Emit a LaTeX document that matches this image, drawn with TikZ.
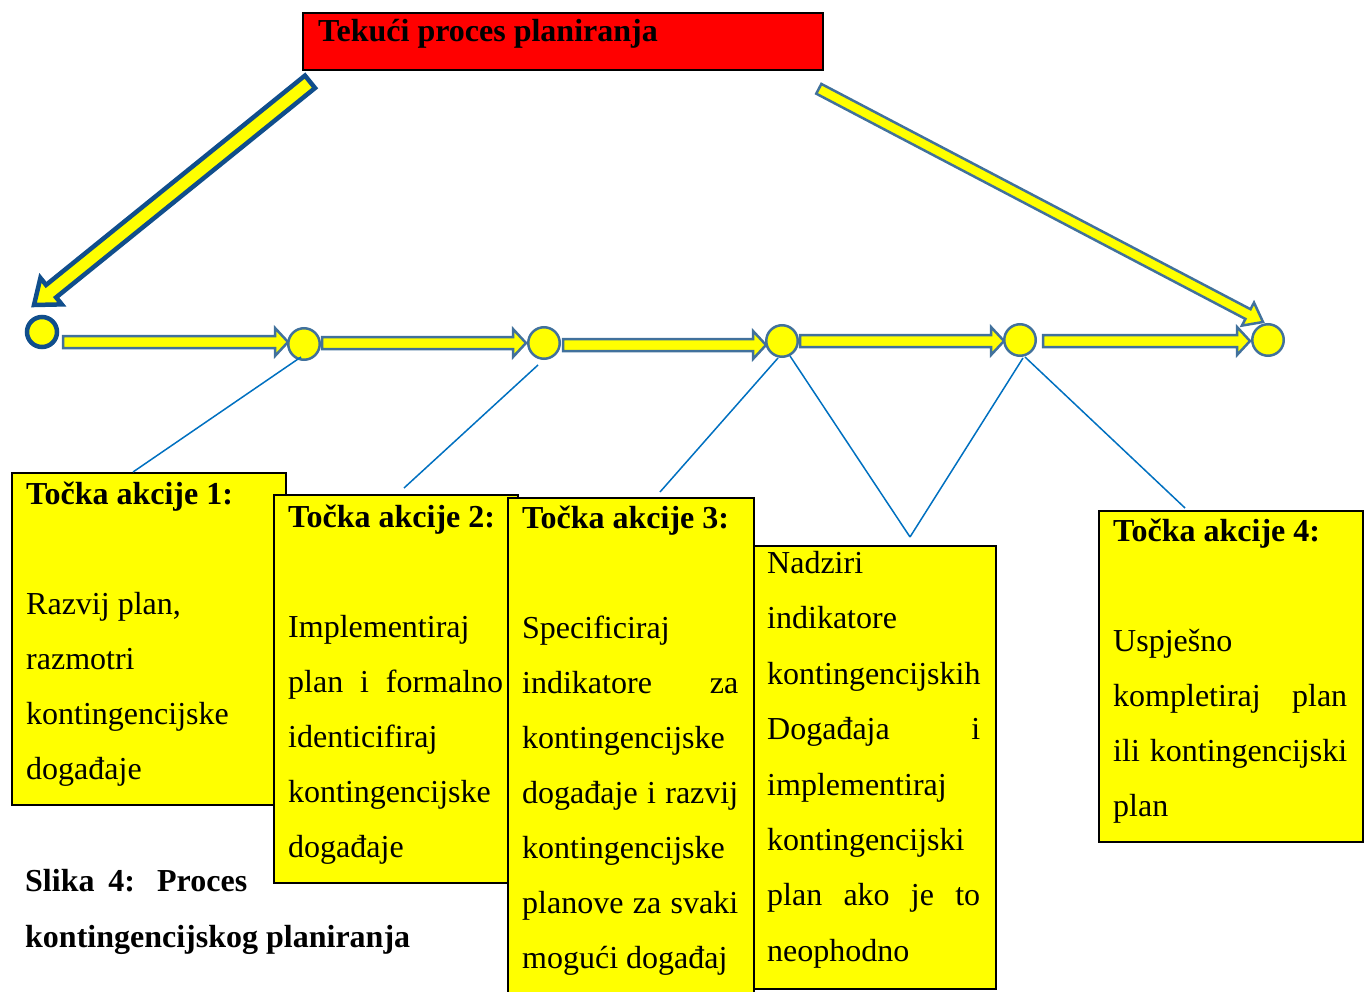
\documentclass[tikz,border=0pt]{standalone}
\usepackage{fontspec}
\setmainfont{Liberation Serif}
\usetikzlibrary{calc}
\definecolor{ayellow}{RGB}{255,255,0}
\definecolor{ared}{RGB}{255,0,0}
\definecolor{cborder}{RGB}{65,113,156}
\definecolor{dborder}{RGB}{16,78,140}
\definecolor{lblue}{RGB}{0,112,192}
\newcommand\blockarrow[6]{%
  \coordinate (bahead) at ($(#3)!#6!(#2)$);
  \path[#1] ($(#2)!#4!90:(#3)$) -- ($(bahead)!#4!-90:(#2)$) -- ($(bahead)!#5!-90:(#2)$) -- (#3) -- ($(bahead)!#5!90:(#2)$) -- ($(bahead)!#4!90:(#2)$) -- ($(#2)!#4!-90:(#3)$) -- cycle;}
\begin{document}
\begin{tikzpicture}[x=1pt,y=-1pt,
  boxshape/.style={draw=black, line width=1.8pt, fill=ayellow, anchor=north west, inner sep=0pt},
  redbox/.style={draw=black, line width=1.8pt, fill=ared, anchor=north west, inner sep=0pt},
  txt/.style={anchor=north west, inner sep=0pt, align=left, font=\fontsize{32}{55}\selectfont},
  circ/.style={circle, draw=cborder, line width=2.5pt, fill=ayellow, minimum size=31.5pt, inner sep=0pt},
  startcirc/.style={circle, draw=dborder, line width=4.5pt, fill=ayellow, minimum size=30pt, inner sep=0pt},
  smallarrow/.style={draw=cborder, line width=2.5pt, fill=ayellow, line join=miter},
  bigarrow/.style={draw=dborder, line width=4.5pt, fill=ayellow, line join=miter},
  conn/.style={draw=lblue, line width=1.5pt}]
\useasboundingbox (0,0) rectangle (1370,992);

% title
\node[redbox, minimum width=520pt, minimum height=57pt] (title) at (302,12) {};
\node[anchor=base west, inner sep=0pt, font=\fontsize{32}{38}\selectfont\bfseries] (titletext) at (318,42) {Tekući proces planiranja};

% boxes
\node[boxshape, minimum width=274pt, minimum height=332pt] (b1) at (11,472) {};
\node[boxshape, minimum width=244pt, minimum height=388pt] (b2) at (273,494) {};
\node[boxshape, minimum width=246pt, minimum height=500pt] (b3) at (507,497) {};
\node[boxshape, minimum width=242pt, minimum height=443pt] (b4) at (753,545) {};
\node[boxshape, minimum width=264pt, minimum height=331pt] (b5) at (1098,510) {};

\node[txt] (t1) at (26,482) {\rule{0pt}{22pt}\textbf{Točka akcije 1:}\\[55pt]
  Razvij plan,\\ razmotri\\ kontingencijske\\ događaje};
\node[txt] (t2) at (288,505) {\rule{0pt}{22pt}\textbf{Točka akcije 2:}\\[55pt]
  Implementiraj\\ \makebox[215pt][s]{plan i formalno}\\ identicifiraj\\ kontingencijske\\ događaje};
\node[txt] (t3) at (522,506) {\rule{0pt}{22pt}\textbf{Točka akcije 3:}\\[55pt]
  Specificiraj\\ \makebox[216pt][s]{indikatore za}\\ kontingencijske\\ \makebox[216pt][s]{događaje i razvij}\\ kontingencijske\\ \makebox[216pt][s]{planove za svaki}\\ mogući događaj};
\node[txt, font=\fontsize{32}{55.4}\selectfont] (t4) at (767,551) {\rule{0pt}{22pt}Nadziri\\ indikatore\\ kontingencijskih\\ \makebox[213pt][s]{Događaja i}\\ implementiraj\\ kontingencijski\\ \makebox[213pt][s]{plan ako je to}\\ neophodno};
\node[txt] (t5) at (1113,519) {\rule{0pt}{22pt}\textbf{Točka akcije 4:}\\[55pt]
  Uspješno\\ \makebox[234pt][s]{kompletiraj plan}\\ \makebox[234pt][s]{ili kontingencijski}\\ plan};

% caption
\node[txt, font=\fontsize{32}{56}\selectfont\bfseries] (cap) at (25,869) {\rule{0pt}{22pt}\makebox[222pt][s]{Slika 4: Proces}\\ kontingencijskog planiranja};

% circle centres
\coordinate (p0) at (42,332);
\coordinate (p1) at (304,344);
\coordinate (p2) at (544,343);
\coordinate (p3) at (782,341);
\coordinate (p4) at (1020,340);
\coordinate (p5) at (1268,340);

% horizontal block arrows
\coordinate (a1s) at (63,342);   \coordinate (a1e) at (288,342);
\coordinate (a2s) at (322,343);  \coordinate (a2e) at (526,343);
\coordinate (a3s) at (563,345);  \coordinate (a3e) at (766,345);
\coordinate (a4s) at (800,341);  \coordinate (a4e) at (1004,341);
\coordinate (a5s) at (1043,341); \coordinate (a5e) at (1250,341);
\blockarrow{smallarrow}{a1s}{a1e}{6pt}{14pt}{13pt}
\blockarrow{smallarrow}{a2s}{a2e}{6pt}{14pt}{13pt}
\blockarrow{smallarrow}{a3s}{a3e}{6pt}{14pt}{13pt}
\blockarrow{smallarrow}{a4s}{a4e}{6pt}{14pt}{13pt}
\blockarrow{smallarrow}{a5s}{a5e}{6pt}{14pt}{13pt}

% big arrows from title
\coordinate (ls) at ($(title.south west)+(8,11)$);
\coordinate (le) at ($(p0)+(-8,-27)$);
\blockarrow{bigarrow}{ls}{le}{8pt}{17pt}{22pt}
\coordinate (rs) at ($(title.south east)+(-5,18)$);
\coordinate (re) at ($(p5)+(-5,-18)$);
\blockarrow{smallarrow}{rs}{re}{5.5pt}{13pt}{17pt}

% circles
\node[startcirc] (c0) at (p0) {};
\node[circ] (c1) at (p1) {};
\node[circ] (c2) at (p2) {};
\node[circ] (c3) at (p3) {};
\node[circ] (c4) at (p4) {};
\node[circ] (c5) at (p5) {};

% thin connectors
\draw[conn] ($(c1)+(-3,13)$) -- ($(b1.north west)+(122,0)$);
\draw[conn] ($(c2)+(-6,22)$) -- ($(b2.north west)+(131,-6)$);
\draw[conn] ($(c3)+(-4,17)$) -- ($(b3.north west)+(153,-5)$);
\coordinate (m4) at ($(b4.north west)+(157,-8)$);
\draw[conn] ($(c3)+(8,15)$) -- (m4);
\draw[conn] ($(c4)+(3,18)$) -- (m4);
\draw[conn] ($(c4)+(5,17)$) -- ($(b5.north west)+(87,-2)$);
\end{tikzpicture}
\end{document}
